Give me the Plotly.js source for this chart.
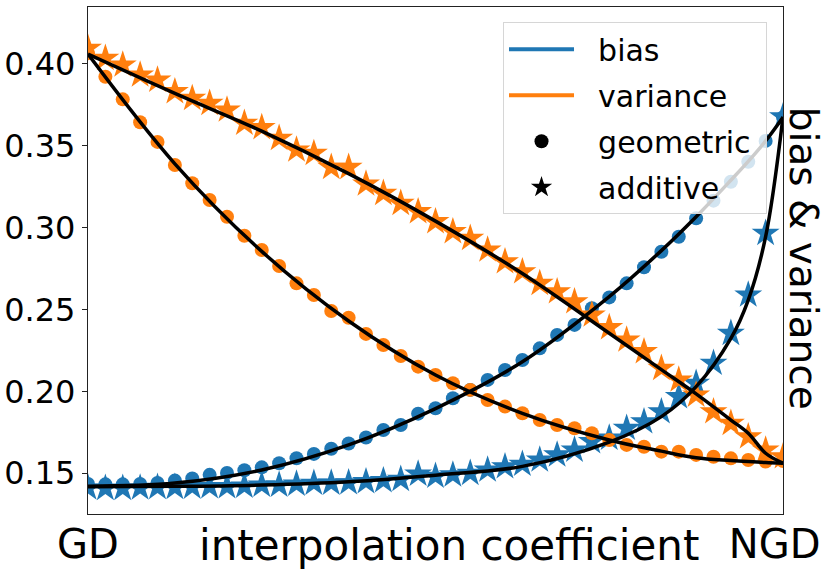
<!DOCTYPE html>
<html>
<head>
<meta charset="utf-8">
<script src="https://cdn.plot.ly/plotly-3.0.1.min.js"></script>
<style>
  html, body { margin: 0; padding: 0; background: #fff; }
  #plot { width: 831px; height: 573px; }
</style>
</head>
<body>
<div id="plot"></div>
<script>
// interpolation coefficient, 41 runs from GD (0) to NGD (1)
const coef = [0, 0.025, 0.05, 0.075, 0.1, 0.125, 0.15, 0.175, 0.2, 0.225,
              0.25, 0.275, 0.3, 0.325, 0.35, 0.375, 0.4, 0.425, 0.45, 0.475,
              0.5, 0.525, 0.55, 0.575, 0.6, 0.625, 0.65, 0.675, 0.7, 0.725,
              0.75, 0.775, 0.8, 0.825, 0.85, 0.875, 0.9, 0.925, 0.95, 0.975, 1];

// measured points
const biasGeometric = [0.1435, 0.1432, 0.1432, 0.1435, 0.1440, 0.1455, 0.1468, 0.1490, 0.1502, 0.1518,
                       0.1536, 0.1561, 0.1592, 0.1618, 0.1650, 0.1682, 0.1718, 0.1764, 0.1795, 0.1864,
                       0.1897, 0.1958, 0.2009, 0.2070, 0.2131, 0.2192, 0.2263, 0.2345, 0.2406, 0.2508,
                       0.2574, 0.2660, 0.2758, 0.2853, 0.2945, 0.3057, 0.3165, 0.3281, 0.3403, 0.3530, 0.3674];
const biasAdditive = [0.1410, 0.1408, 0.1408, 0.1410, 0.1414, 0.1414, 0.1416, 0.1418, 0.1418, 0.1422,
                      0.1428, 0.1428, 0.1434, 0.1439, 0.1440, 0.1442, 0.1449, 0.1455, 0.1463, 0.1495,
                      0.1482, 0.1490, 0.1500, 0.1520, 0.1540, 0.1555, 0.1581, 0.1612, 0.1642, 0.1693,
                      0.1715, 0.1775, 0.1815, 0.1876, 0.1968, 0.2050, 0.2172, 0.2355, 0.2589, 0.2966, 0.3678];
const varGeometric = [0.4065, 0.3922, 0.3784, 0.3644, 0.3524, 0.3383, 0.3271, 0.3169, 0.3067, 0.2951,
                      0.2864, 0.2766, 0.2660, 0.2589, 0.2491, 0.2450, 0.2351, 0.2283, 0.2216, 0.2151,
                      0.2100, 0.2050, 0.2009, 0.1947, 0.1907, 0.1866, 0.1825, 0.1795, 0.1775, 0.1744,
                      0.1703, 0.1673, 0.1662, 0.1632, 0.1632, 0.1612, 0.1601, 0.1591, 0.1581, 0.1571, 0.1575];
const varAdditive = [0.4096, 0.4035, 0.3994, 0.3933, 0.3902, 0.3831, 0.3790, 0.3760, 0.3719, 0.3638,
                     0.3612, 0.3546, 0.3475, 0.3454, 0.3369, 0.3369, 0.3267, 0.3210, 0.3149, 0.3098,
                     0.3037, 0.2976, 0.2935, 0.2864, 0.2792, 0.2731, 0.2660, 0.2609, 0.2548, 0.2467,
                     0.2390, 0.2314, 0.2243, 0.2141, 0.2070, 0.1978, 0.1876, 0.1805, 0.1723, 0.1642, 0.1601];

// theory curves (black)
const curveCoef = [0, 0.125, 0.25, 0.375, 0.5, 0.625, 0.75, 0.825, 0.875, 0.925, 0.95, 0.975, 1];
const biasGeoCurve = [0.1420, 0.1440, 0.1520, 0.1673, 0.1895, 0.2181, 0.2579, 0.2860, 0.3067, 0.3290, 0.3405, 0.3530, 0.3675];
const biasAddCurve = [0.1418, 0.1420, 0.1428, 0.1448, 0.1488, 0.1542, 0.1690, 0.1846, 0.2029, 0.2324, 0.2558, 0.2945, 0.3678];
const varGeoCurve = [0.4060, 0.3390, 0.2855, 0.2430, 0.2100, 0.1866, 0.1703, 0.1635, 0.1595, 0.1578, 0.1571, 0.1565, 0.1561];
const varAddCurve = [0.4060, 0.3820, 0.3590, 0.3330, 0.3040, 0.2720, 0.2355, 0.2133, 0.1985, 0.1825, 0.1744, 0.1622, 0.1561];

const yTicks = [0.15, 0.20, 0.25, 0.30, 0.35, 0.40];
// NGD label sits a little left of the right edge in the original
const xTickVals = [0, 0.988];
const xTickText = ['GD', 'NGD'];

const BLUE = '#1f77b4';
const ORANGE = '#ff7f0e';
const FONT = 'DejaVu Sans, Liberation Sans, sans-serif';
const GAP = '\u00a0\u00a0';   // space between legend handle and label

function dots(y, color, symbol, size) {
    return {
        x: coef, y: y,
        mode: 'markers', type: 'scatter',
        marker: { color: color, symbol: symbol, size: size, line: { width: 0 } },
        showlegend: false, hoverinfo: 'skip'
    };
}

function curve(y) {
    return {
        x: curveCoef, y: y,
        mode: 'lines', type: 'scatter',
        line: { color: 'black', width: 3.5, shape: 'spline', smoothing: 1 },
        showlegend: false, hoverinfo: 'skip'
    };
}

// legend-only entries
function key(name, extra, group) {
    return Object.assign({ x: [null], y: [null], type: 'scatter', name: GAP + name + '\u00a0', legendgroup: group, showlegend: true }, extra);
}

let data = [
    dots(biasGeometric, BLUE, 'circle', 14),
    dots(biasAdditive, BLUE, 'star', 21),
    dots(varGeometric, ORANGE, 'circle', 14),
    dots(varAdditive, ORANGE, 'star', 21),
    curve(biasGeoCurve),
    curve(biasAddCurve),
    curve(varGeoCurve),
    curve(varAddCurve),
    key('bias', { mode: 'lines', line: { color: BLUE, width: 4 } }, 'a'),
    key('variance', { mode: 'lines', line: { color: ORANGE, width: 4 } }, 'b'),
    key('geometric', { mode: 'markers', marker: { color: 'black', symbol: 'circle', size: 14 } }, 'c'),
    key('additive', { mode: 'markers', marker: { color: 'black', symbol: 'star', size: 17 } }, 'd')
];

let layout = {
    width: 831,
    height: 573,
    margin: { l: 88, r: 48, t: 7, b: 59 },
    paper_bgcolor: 'white',
    plot_bgcolor: 'white',
    font: { family: FONT, color: 'black' },
    showlegend: true,
    xaxis: {
        range: [0, 1],
        tickvals: xTickVals,
        ticktext: xTickText,
        tickfont: { size: 40 },
        ticks: '',
        ticklabelstandoff: -5,
        showgrid: false,
        zeroline: false,
        showline: true,
        mirror: true,
        linecolor: '#222',
        linewidth: 1.2
    },
    yaxis: {
        range: [0.1251, 0.4348],
        tickvals: yTicks,
        tickformat: '.2f',
        tickfont: { size: 32 },
        ticks: 'outside',
        ticklen: 5,
        tickcolor: '#222',
        showgrid: false,
        zeroline: false,
        showline: true,
        mirror: true,
        linecolor: '#222',
        linewidth: 1.2
    },
    legend: {
        x: 0.977, xanchor: 'right',
        y: 0.97, yanchor: 'top',
        bgcolor: 'rgba(255,255,255,0.8)',
        bordercolor: '#d6d6d6',
        borderwidth: 1,
        font: { size: 30 },
        traceorder: 'grouped',
        tracegroupgap: 4,
        itemwidth: 65
    },
    annotations: [
        {
            text: 'interpolation coefficient',
            xref: 'paper', yref: 'paper',
            x: 0.519, y: 0, yanchor: 'middle', yshift: -31,
            showarrow: false,
            font: { size: 42 }
        },
        {
            text: 'bias & variance',
            xref: 'paper', yref: 'paper',
            x: 1.029, y: 0.505, xanchor: 'center', yanchor: 'middle',
            textangle: 90,
            showarrow: false,
            font: { size: 39 }
        }
    ]
};

Plotly.newPlot('plot', data, layout, { staticPlot: true });
</script>
</body>
</html>
